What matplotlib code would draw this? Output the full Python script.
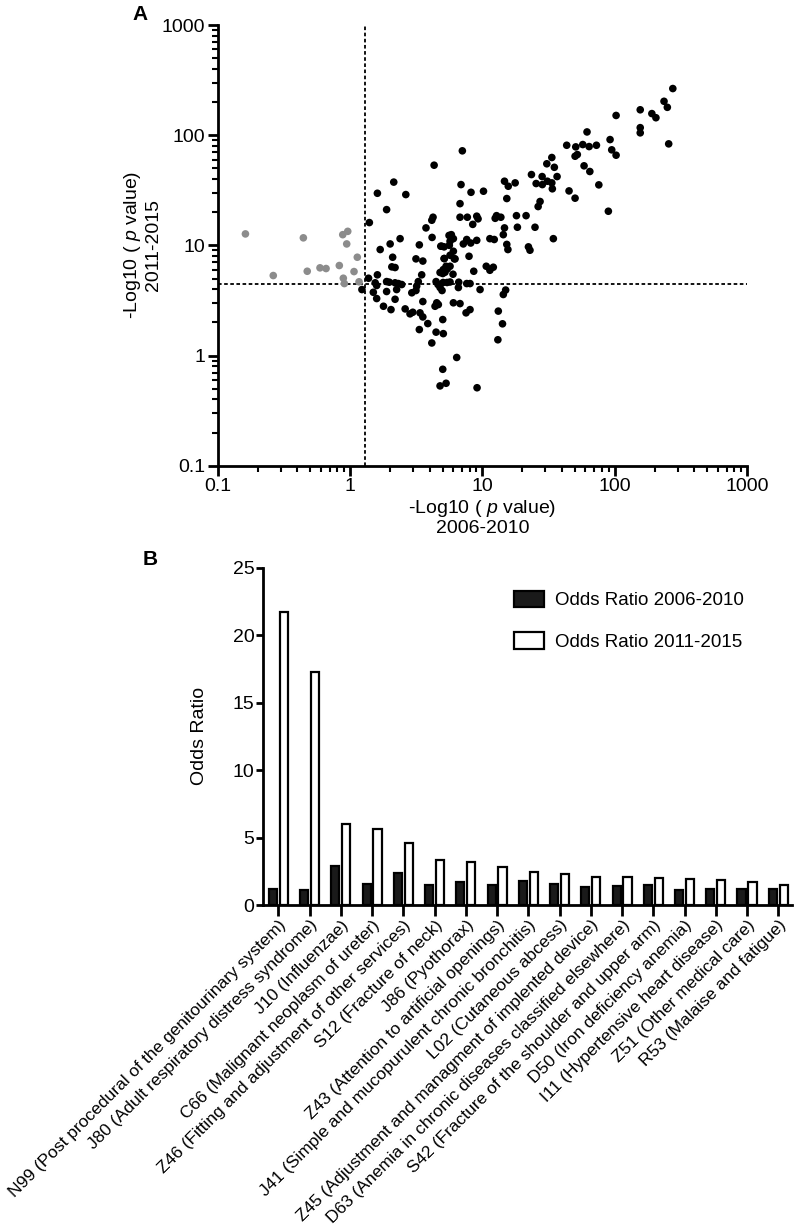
import matplotlib
matplotlib.use('Agg')
import matplotlib.pyplot as plt
import numpy as np

plt.rcParams['font.family'] = ['Liberation Sans', 'DejaVu Sans']
plt.rcParams['mathtext.fontset'] = 'custom'
plt.rcParams['mathtext.rm'] = 'Liberation Sans'
plt.rcParams['mathtext.it'] = 'Liberation Sans:italic'

# Panel A: -log10(p) 2006-2010 vs 2011-2015
gray_x = [0.162, 0.263, 0.444, 0.475, 0.593, 0.659, 0.830, 0.881, 0.961, 0.944,
          1.135, 1.072, 0.890, 0.906, 1.17]
gray_y = [12.7, 5.32, 11.7, 5.82, 6.25, 6.16, 6.56, 12.5, 13.4, 10.3,
          7.80, 5.78, 5.03, 4.50, 4.67]

sig_x = [1.23, 1.38, 1.40, 1.50, 1.55, 1.59, 1.59, 1.61, 1.61, 1.69,
         1.79, 1.89, 1.98, 1.89, 1.89, 2.01, 2.04, 2.07, 2.19, 2.10,
         2.14, 2.19, 2.32, 2.46, 2.25, 2.19, 2.39, 2.61, 2.64, 2.84,
         2.98, 2.93, 3.15, 3.15, 3.28, 3.19, 3.34, 3.38, 3.55, 3.55,
         3.48, 3.55, 3.75, 3.87, 3.34, 4.15, 4.24, 4.17, 4.32, 4.15,
         4.39, 4.52, 4.65, 4.47, 5.07, 5.02, 5.02, 4.85, 5.14, 5.16,
         5.02, 4.79, 5.32, 4.47, 4.62, 4.79, 4.96, 5.05, 5.41, 5.70,
         5.60, 5.83, 6.04, 5.70, 5.63, 5.70, 6.04, 6.14, 5.70, 5.44,
         5.22, 6.04, 6.78, 6.63, 6.59, 6.40, 7.06, 6.90, 6.78, 6.78,
         7.70, 7.18, 7.62, 8.17, 9.07, 7.93, 7.53, 8.07, 7.62, 8.07,
         8.61, 8.46, 8.21, 9.07, 9.28, 9.61, 9.12, 10.2, 10.7, 11.4,
         12.1, 11.4, 12.3, 12.8, 12.5, 13.8, 13.2, 14.2, 13.1, 14.4,
         15.0, 14.7, 15.7, 17.7, 15.3, 14.7, 14.4, 15.3, 15.6, 18.1,
         21.4, 18.4, 25.0, 22.3, 22.9, 34.4, 23.5, 25.5, 27.3, 26.4,
         28.3, 28.4, 30.7, 33.5, 35.0, 36.7, 31.0, 33.5, 33.8, 43.4,
         50.8, 57.4, 64.1, 72.8, 50.2, 52.2, 58.7, 64.9, 75.9, 89.6,
         45.2, 50.2, 61.8, 92.3, 95.0, 102.5, 102.5, 156, 156, 156,
         191, 205, 236, 250, 275, 256, 4.79, 5.07, 6.00, 5.32,
         4.93, 5.14, 6.22]
sig_y = [3.97, 5.03, 16.1, 3.75, 4.57, 4.32, 3.29, 5.40, 29.7, 9.16,
         2.80, 4.69, 4.63, 3.81, 21.1, 10.3, 2.61, 6.38, 6.29, 7.80,
         37.5, 4.57, 4.50, 4.41, 3.97, 3.24, 11.5, 2.65, 28.9, 2.39,
         2.47, 3.71, 3.89, 7.54, 4.69, 4.26, 10.1, 2.44, 2.24, 7.20,
         5.40, 3.09, 14.4, 1.95, 1.72, 16.9, 18.0, 11.8, 53.4, 1.30,
         2.80, 3.01, 2.90, 1.63, 1.58, 2.12, 5.55, 9.82, 9.69, 7.59,
         0.75, 0.53, 0.56, 4.69, 4.41, 4.14, 3.89, 4.60, 4.60, 4.65,
         12.3, 12.5, 11.5, 10.9, 10.0, 8.13, 8.84, 7.54, 6.46, 6.12,
         5.70, 3.01, 2.96, 4.63, 4.14, 0.96, 72.1, 35.6, 23.9, 18.0,
         18.0, 10.3, 11.3, 10.5, 11.1, 7.96, 2.44, 2.61, 4.50, 4.50,
         5.82, 15.5, 30.3, 18.4, 17.4, 3.97, 0.51, 31.0, 6.46, 5.94,
         6.33, 11.5, 11.3, 18.6, 17.6, 18.0, 2.53, 1.94, 1.39, 3.58,
         3.93, 38.2, 34.4, 36.9, 26.6, 14.4, 12.5, 10.2, 9.16, 18.6,
         18.6, 14.6, 14.6, 9.69, 9.03, 11.5, 43.9, 36.4, 25.0, 22.5,
         42.1, 35.6, 55.0, 62.7, 51.1, 42.1, 38.2, 36.9, 32.6, 81.0,
         78.3, 82.2, 78.8, 81.0, 64.4, 66.7, 52.7, 46.8, 35.4, 20.4,
         31.2, 26.8, 107, 91.2, 73.6, 65.8, 151, 170, 117, 105,
         157, 144, 203, 179, 265, 83.4, 5.67, 6.03, 5.47, 6.46,
         9.82, 7.59, 7.54]

x_cut = 1.3    # -log10(0.05)
y_cut = 4.45
log_ticks = [0.1, 1, 10, 100, 1000]
log_labels = ['0.1', '1', '10', '100', '1000']

# Panel B: odds ratios
codes = ['N99 (Post procedural of the genitourinary system)',
         'J80 (Adult respiratory distress syndrome)',
         'J10 (Influenzae)',
         'C66 (Malignant neoplasm of ureter)',
         'Z46 (Fitting and adjustment of other services)',
         'S12 (Fracture of neck)',
         'J86 (Pyothorax)',
         'Z43 (Attention to artificial openings)',
         'J41 (Simple and mucopurulent chronic bronchitis)',
         'L02 (Cutaneous abcess)',
         'Z45 (Adjustment and managment of implented device)',
         'D63 (Anemia in chronic diseases classified elsewhere)',
         'S42 (Fracture of the shoulder and upper arm)',
         'D50 (Iron deficiency anemia)',
         'I11 (Hypertensive heart disease)',
         'Z51 (Other medical care)',
         'R53 (Malaise and fatigue)']
or_2006 = [1.18, 1.13, 2.90, 1.53, 2.39, 1.45, 1.72, 1.48, 1.75, 1.53,
           1.31, 1.38, 1.45, 1.13, 1.16, 1.18, 1.18]
or_2011 = [21.7, 17.3, 6.0, 5.66, 4.60, 3.37, 3.20, 2.78, 2.42, 2.31,
           2.09, 2.05, 1.97, 1.92, 1.85, 1.70, 1.50]

W, H = 794, 1224
fig = plt.figure(figsize=(W / 100, H / 100), dpi=100)

def frac(l, t, r, b):
    return [l / W, 1 - b / H, (r - l) / W, (b - t) / H]

# ---- A ----
ax = fig.add_axes(frac(217.7, 25, 747, 465.7))
ax.set_xscale('log')
ax.set_yscale('log')
ax.scatter(gray_x, gray_y, s=30, color='#8c8c8c', edgecolors='none', zorder=3, clip_on=False)
ax.scatter(sig_x, sig_y, s=30, color='black', edgecolors='none', zorder=3, clip_on=False)
ax.plot([x_cut, x_cut], [0.1, 1000], color='black', lw=1.3, ls=(0, (2, 1.4)), zorder=2)
ax.plot([0.1, 1000], [y_cut, y_cut], color='black', lw=1.3, ls=(0, (2, 1.4)), zorder=2)
ax.set_xlim(0.1, 1000)
ax.set_ylim(0.1, 1000)
ax.set_xticks(log_ticks)
ax.set_xticklabels(log_labels)
ax.set_yticks(log_ticks)
ax.set_yticklabels(log_labels)
for s in ['top', 'right']:
    ax.spines[s].set_visible(False)
for s in ['left', 'bottom']:
    ax.spines[s].set_linewidth(2)
ax.tick_params(which='major', direction='out', length=7, width=2, labelsize=14, pad=2)
ax.tick_params(which='minor', direction='out', length=4, width=1.5)
ax.set_xlabel('-Log10 ( $\\it{p}$ value)\n2006-2010', fontsize=14, labelpad=2, linespacing=1.1)
ax.set_ylabel('-Log10 ( $\\it{p}$ value)\n2011-2015', fontsize=14, labelpad=0, linespacing=1.1)
fig.text(140 / W, 1 - 15 / H, 'A', fontsize=15, fontweight='bold', ha='center', va='center')

# ---- B ----
bx = fig.add_axes(frac(262.7, 567.7, 791.7, 905))
pos = np.arange(len(codes))
bw = 0.26
bx.bar(pos - 0.175, or_2006, bw, color='#1a1a1a', edgecolor='black', lw=1.6,
       label='Odds Ratio 2006-2010', zorder=3)
bx.bar(pos + 0.175, or_2011, bw, color='white', edgecolor='black', lw=1.6,
       label='Odds Ratio 2011-2015', zorder=3)
bx.set_xlim(-0.5, len(codes) - 0.57)
bx.set_ylim(0, 25)
bx.set_yticks([0, 5, 10, 15, 20, 25])
bx.set_xticks(pos)
bx.set_xticklabels(codes, rotation=45, ha='right', va='top', rotation_mode='anchor', fontsize=12.5)
for s in ['top', 'right']:
    bx.spines[s].set_visible(False)
for s in ['left', 'bottom']:
    bx.spines[s].set_linewidth(2)
bx.tick_params(axis='y', direction='out', length=5, width=2, labelsize=14, pad=1)
bx.tick_params(axis='x', direction='out', length=8, width=2, pad=1)
bx.set_ylabel('Odds Ratio', fontsize=14, labelpad=18)
bx.legend(loc='upper left', bbox_to_anchor=(506 / W, 1 - 583 / H), bbox_transform=fig.transFigure,
          frameon=False, fontsize=13.5, handlelength=1.6, handleheight=1.0,
          handletextpad=0.6, labelspacing=1.2, borderaxespad=0)
fig.text(150 / W, 1 - 560 / H, 'B', fontsize=15, fontweight='bold', ha='center', va='center')

fig.savefig('out.png', dpi=100)
